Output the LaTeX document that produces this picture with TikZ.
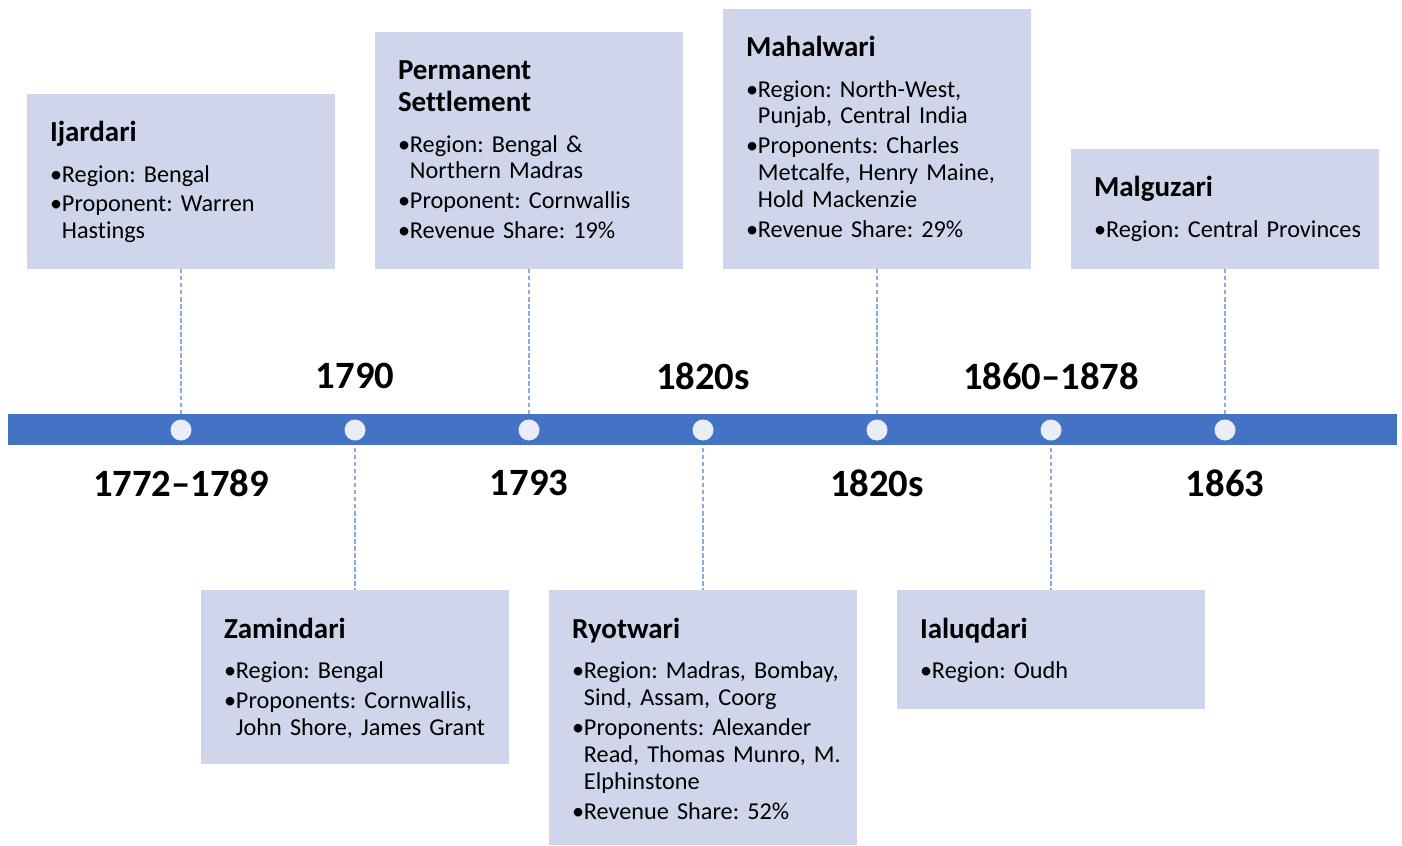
\documentclass[tikz,border=0pt]{standalone}
\usepackage{fontspec}
\setmainfont{Carlito}[Ligatures={TeX,NoCommon}]
\usetikzlibrary{positioning,calc,backgrounds}
\definecolor{barblue}{RGB}{68,114,196}
\definecolor{cardfill}{RGB}{207,213,234}
\definecolor{dotfill}{RGB}{233,237,246}
\definecolor{dashblue}{RGB}{143,170,220}
\frenchspacing
\newcommand{\ttl}[1]{{\fontsize{16.5}{18.2}\selectfont\bfseries #1\par}\vspace{6.2pt}}
\newcommand{\bpt}[1]{\par\vspace{1.7pt}\hangindent=6.8pt\hangafter=1\noindent\makebox[6.8pt][l]{\textbullet}#1\par}

\begin{document}
\begin{tikzpicture}[x=0.02cm,y=-0.02cm,
  card/.style={fill=cardfill,minimum width=6.16cm,inner sep=0pt},
  txt/.style={anchor=base west,text width=5.6cm,inner sep=0pt,font=\fontsize{13.8}{15.3}\selectfont},
  yr/.style={font=\fontsize{22}{26}\selectfont\bfseries,inner sep=0pt},
  dot/.style={circle,fill=dotfill,minimum size=0.42cm,inner sep=0pt},
  conn/.style={draw=dashblue,line width=0.7pt,dash pattern=on 2.5pt off 1.5pt},
  bar/.style={fill=barblue,minimum width=27.78cm,minimum height=0.62cm,inner sep=0pt}]
  \useasboundingbox (0,0) rectangle (1402,845);
  % timeline
  \node[bar] (axis) at (702.5,429.5) {};
  \node[dot] (d1) at (181,430) {};
  \node[dot] (d2) at (355,430) {};
  \node[dot] (d3) at (529,430) {};
  \node[dot] (d4) at (703,430) {};
  \node[dot] (d5) at (877,430) {};
  \node[dot] (d6) at (1051,430) {};
  \node[dot] (d7) at (1225,430) {};
  % cards
  \node[card,anchor=south,minimum height=3.5cm] (ijc) at (181,269) {};
  \node[card,anchor=south,minimum height=4.74cm] (psc) at (529,269) {};
  \node[card,anchor=south,minimum height=5.2cm] (mhc) at (877,269) {};
  \node[card,anchor=south,minimum height=2.4cm] (mgc) at (1225,269) {};
  \node[card,anchor=north,minimum height=3.48cm] (zmc) at (355,590) {};
  \node[card,anchor=north,minimum height=5.1cm] (ryc) at (703,590) {};
  \node[card,anchor=north,minimum height=2.38cm] (iqc) at (1051,590) {};
  \node[txt] (ijt) at ($(ijc.north west)+(23,48)$) {\ttl{Ijardari}\bpt{Region: Bengal}\bpt{Proponent: Warren\newline Hastings}};
  \node[txt] (pst) at ($(psc.north west)+(23,48)$) {\ttl{Permanent\newline Settlement}\bpt{Region: Bengal \&\newline Northern Madras}\bpt{Proponent: Cornwallis}\bpt{Revenue Share: 19\%}};
  \node[txt] (mht) at ($(mhc.north west)+(23,48)$) {\ttl{Mahalwari}\bpt{Region: North-West,\newline Punjab, Central India}\bpt{Proponents: Charles\newline Metcalfe, Henry Maine,\newline Hold Mackenzie}\bpt{Revenue Share: 29\%}};
  \node[txt] (mgt) at ($(mgc.north west)+(23,48)$) {\ttl{Malguzari}\bpt{Region: Central Provinces}};
  \node[txt] (zmt) at ($(zmc.north west)+(23,48)$) {\ttl{Zamindari}\bpt{Region: Bengal}\bpt{Proponents: Cornwallis,\newline John Shore, James Grant}};
  \node[txt] (ryt) at ($(ryc.north west)+(23,48)$) {\ttl{Ryotwari}\bpt{Region: Madras, Bombay,\newline Sind, Assam, Coorg}\bpt{Proponents: Alexander\newline Read, Thomas Munro, M.\newline Elphinstone}\bpt{Revenue Share: 52\%}};
  \node[txt] (iqt) at ($(iqc.north west)+(23,48)$) {\ttl{Ialuqdari}\bpt{Region: Oudh}};
  % years
  \node[yr] (y1) at (181,483) {1772--1789};
  \node[yr] (y2) at (355,376) {1790};
  \node[yr] (y3) at (529,483) {1793};
  \node[yr] (y4) at (703,376) {1820s};
  \node[yr] (y5) at (877,483) {1820s};
  \node[yr] (y6) at (1051,376) {1860--1878};
  \node[yr] (y7) at (1225,483) {1863};
  % connectors
  \begin{scope}[on background layer]
    \draw[conn] (ijc) -- (d1);
    \draw[conn] (psc) -- (d3);
    \draw[conn] (mhc) -- (d5);
    \draw[conn] (mgc) -- (d7);
    \draw[conn] (d2) -- (zmc);
    \draw[conn] (d4) -- (ryc);
    \draw[conn] (d6) -- (iqc);
  \end{scope}
\end{tikzpicture}
\end{document}
